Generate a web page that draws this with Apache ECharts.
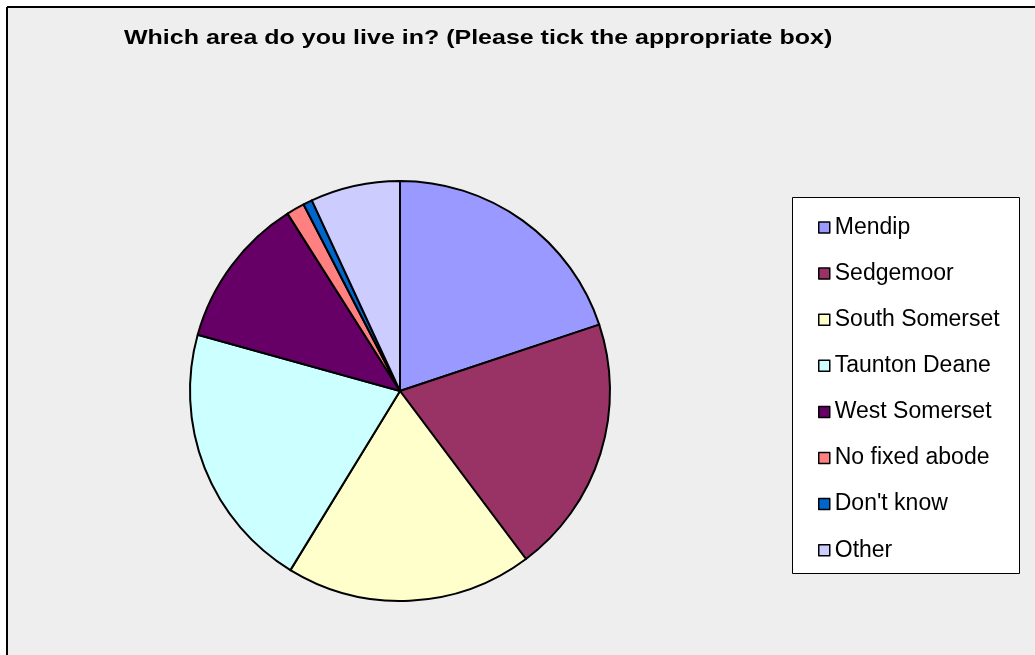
<!DOCTYPE html>
<html>
<head>
<meta charset="utf-8">
<script src="https://cdn.jsdelivr.net/npm/echarts@6/dist/echarts.min.js"></script>
<style>
  html, body { margin: 0; padding: 0; background: #ffffff; }
  #chart { width: 1035px; height: 655px; }
</style>
</head>
<body>
<div id="chart"></div>
<script>
// Survey answers: share of respondents by area (%)
const areas = ['Mendip', 'Sedgemoor', 'South Somerset', 'Taunton Deane', 'West Somerset', 'No fixed abode', "Don't know", 'Other'];
const shares = [19.9, 19.9, 19.0, 20.6, 11.7, 1.4, 0.7, 6.9];
const sliceColors = ['#9999FF', '#993366', '#FFFFCC', '#CCFFFF', '#660066', '#FF8080', '#0066CC', '#CCCCFF'];
const chartTitle = 'Which area do you live in? (Please tick the appropriate box)';

const chart = echarts.init(document.getElementById('chart'), null, { renderer: 'canvas' });

const FONT = '"Liberation Sans", Arial, sans-serif';

chart.setOption({
  animation: false,
  backgroundColor: '#ffffff',
  color: sliceColors,
  graphic: [
    // chart area with its frame lines on the top and left
    { type: 'rect', z: -10, shape: { x: 7, y: 7, width: 1040, height: 660 }, style: { fill: '#EEEEEE' } },
    { type: 'line', z: -5, shape: { x1: 7, y1: 7, x2: 1035, y2: 7 }, style: { stroke: '#000000', lineWidth: 2 } },
    { type: 'line', z: -5, shape: { x1: 7, y1: 7, x2: 7, y2: 655 }, style: { stroke: '#000000', lineWidth: 2 } },
    // legend box
    { type: 'rect', z: -1, shape: { x: 792.5, y: 197.5, width: 227, height: 376 }, style: { fill: '#ffffff', stroke: '#000000', lineWidth: 1 } },
    // title, set in a slightly widened bold face
    {
      type: 'text', z: 10, x: 124, y: 38, scaleX: 1.19, scaleY: 1,
      style: {
        text: chartTitle, fill: '#000000',
        font: 'bold 21px ' + FONT,
        textAlign: 'left', textVerticalAlign: 'middle'
      }
    }
  ],
  legend: {
    orient: 'vertical',
    left: 818,
    top: 216,
    padding: 0,
    itemGap: 23.1,
    itemWidth: 11,
    itemHeight: 11,
    icon: 'rect',
    data: areas,
    itemStyle: { borderColor: '#000000', borderWidth: 1.5 },
    textStyle: { fontFamily: FONT, fontSize: 23, color: '#000000', lineHeight: 22, height: 22 }
  },
  series: [{
    type: 'pie',
    center: [400, 391],
    radius: [0, 210],
    startAngle: 90,
    clockwise: true,
    avoidLabelOverlap: false,
    label: { show: false },
    labelLine: { show: false },
    emphasis: { disabled: true },
    itemStyle: { borderColor: '#000000', borderWidth: 2 },
    data: areas.map((name, i) => ({ name, value: shares[i] }))
  }]
});
</script>
</body>
</html>
